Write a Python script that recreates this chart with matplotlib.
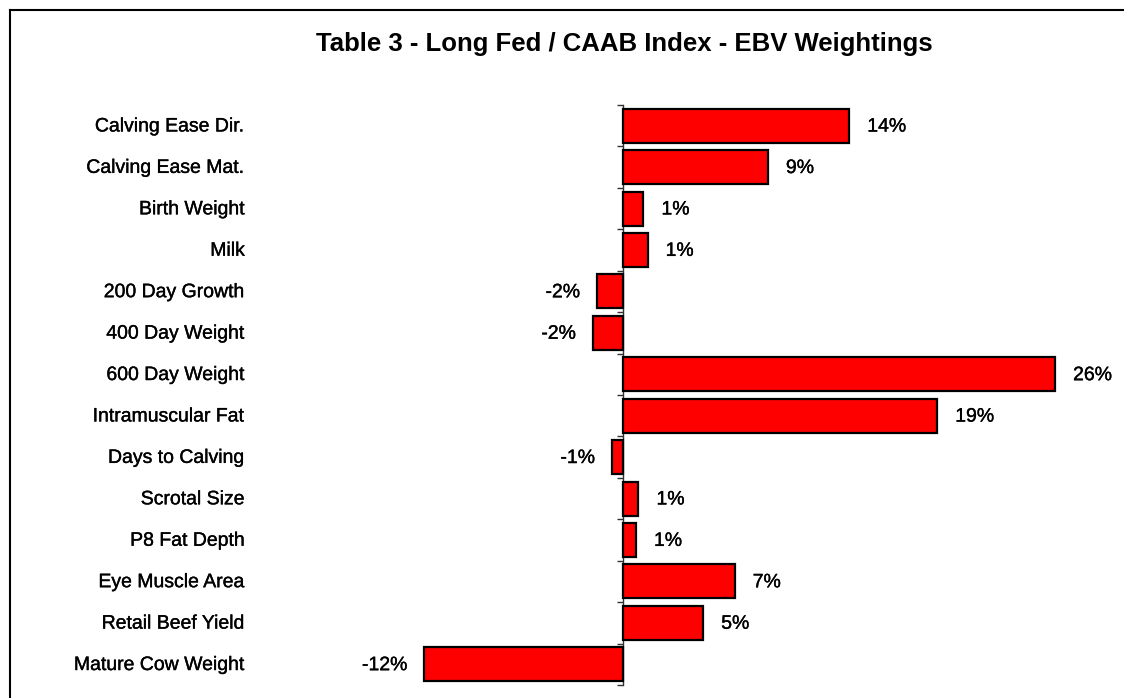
import numpy as np
import matplotlib.pyplot as plt
import matplotlib.patheffects as pe
from matplotlib.lines import Line2D
from matplotlib.transforms import blended_transform_factory

traits = ['Calving Ease Dir.', 'Calving Ease Mat.', 'Birth Weight', 'Milk',
          '200 Day Growth', '400 Day Weight', '600 Day Weight',
          'Intramuscular Fat', 'Days to Calving', 'Scrotal Size',
          'P8 Fat Depth', 'Eye Muscle Area', 'Retail Beef Yield',
          'Mature Cow Weight']
weights = [13.6, 8.7, 1.2, 1.45, -1.6, -1.85, 26.0, 18.9, -0.7, 0.9,
           0.75, 6.7, 4.8, -12.0]

plt.rcParams['font.family'] = ['Liberation Sans', 'DejaVu Sans']

fig = plt.figure(figsize=(11.24, 6.98), dpi=100)
ax = fig.add_axes([250 / 1124, 13 / 698, 810 / 1124, 580 / 698])

y = np.arange(len(traits))
ax.barh(y, weights, height=0.82, color='#ff0000', edgecolor='black',
        linewidth=1.6, zorder=3)

ax.set_xlim(-22.5, 26.3)
ax.set_ylim(len(traits) - 0.5, -0.5)

# zero line with little ticks between the bars
ax.spines['left'].set_position(('data', 0))
ax.spines['left'].set_color('#333333')
ax.spines['left'].set_linewidth(1)
for s in ['top', 'right', 'bottom']:
    ax.spines[s].set_visible(False)
ax.set_xticks([])
ax.set_yticks(np.arange(len(traits) + 1) - 0.5)
ax.set_yticklabels([])
ax.tick_params(axis='y', length=4, width=1, color='#333333', direction='out')

# slightly heavier text like the original rendering
heavy = [pe.withStroke(linewidth=0.25, foreground='black')]

trans = blended_transform_factory(ax.transAxes, ax.transData)
for i, name in enumerate(traits):
    ax.text(-0.006, i + 0.03, name, transform=trans, ha='right', va='center',
            fontsize=14, color='black', path_effects=heavy)

for i, v in enumerate(weights):
    if v >= 0:
        ax.annotate(f'{v:.0f}%', (v, i), xytext=(13, -1),
                    textcoords='offset points', ha='left', va='center',
                    fontsize=14, path_effects=heavy)
    else:
        ax.annotate(f'{v:.0f}%', (v, i), xytext=(-12, -1),
                    textcoords='offset points', ha='right', va='center',
                    fontsize=14, path_effects=heavy)

fig.text(624 / 1124, 1 - 44 / 698,
         'Table 3 - Long Fed / CAAB Index - EBV Weightings',
         ha='center', va='center', fontsize=18.5, fontweight='bold')

# frame lines (only top and left are visible in the picture)
fig.add_artist(Line2D([9.5 / 1124, 9.5 / 1124], [0, 1 - 9.5 / 698],
                      transform=fig.transFigure, color='black', lw=1.5))
fig.add_artist(Line2D([9.5 / 1124, 1], [1 - 9.5 / 698, 1 - 9.5 / 698],
                      transform=fig.transFigure, color='black', lw=1.5))

fig.savefig('out.png', dpi=100)
